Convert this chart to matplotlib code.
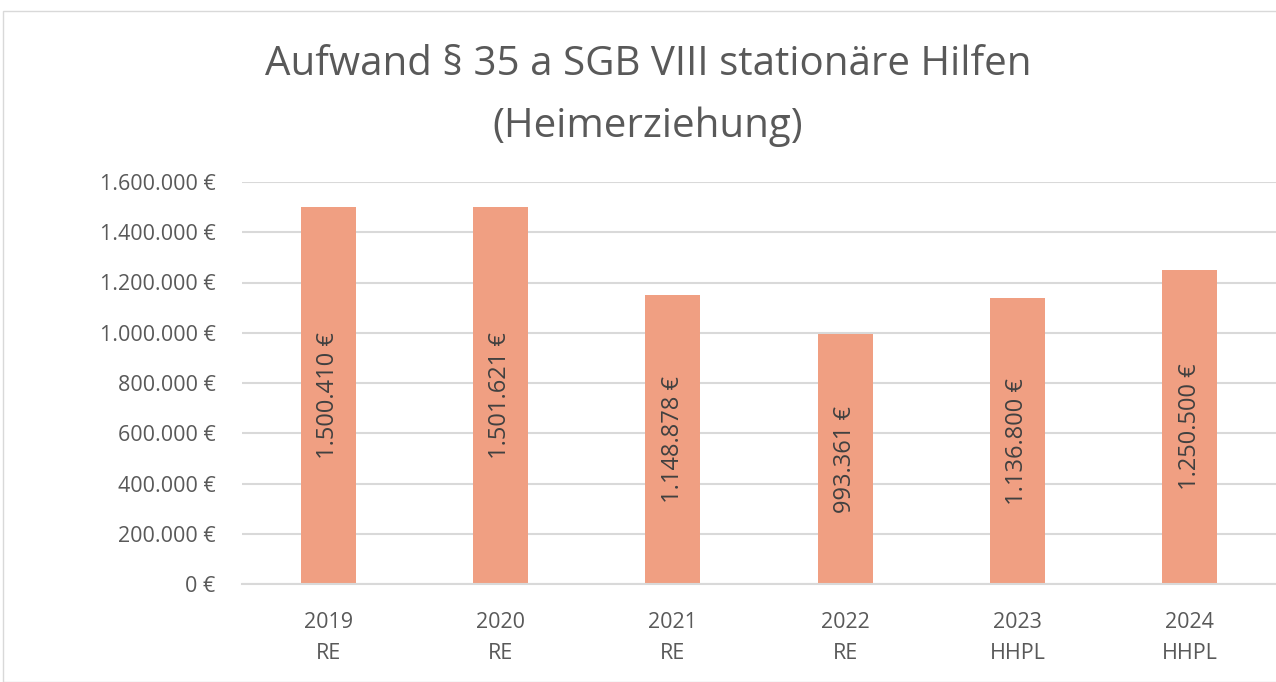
import matplotlib.pyplot as plt
from matplotlib.patches import Rectangle

years = ["2019", "2020", "2021", "2022", "2023", "2024"]
kinds = ["RE", "RE", "RE", "RE", "HHPL", "HHPL"]
values = [1500410, 1501621, 1148878, 993361, 1136800, 1250500]
yticks = [0, 200000, 400000, 600000, 800000, 1000000, 1200000, 1400000, 1600000]


def euro(v):
    return f"{v:,.0f} €".replace(",", ".")


plt.rcParams["font.family"] = ["Open Sans", "DejaVu Sans"]
grey = "#595959"

fig = plt.figure(figsize=(12.76, 6.82), dpi=100)
fig.patches.append(Rectangle((3 / 1276, 0), 1.0, 1 - 11 / 682, transform=fig.transFigure,
                             fill=False, edgecolor="#d9d9d9", linewidth=1))
ax = fig.add_axes([242 / 1276, 1 - 584 / 682, 1 - 242 / 1276, (584 - 182) / 682])

x = range(len(years))
bars = ax.bar(x, values, width=0.32, color="#f09f82", zorder=2)
for b, v in zip(bars, values):
    ax.text(b.get_x() + b.get_width() / 2, v / 2, euro(v), rotation=90,
            ha="center", va="center", fontsize=17, color="#404040", zorder=3)

ax.set_ylim(0, 1600000)
ax.set_xlim(-0.5, len(years) - 0.5)
ax.set_yticks(yticks)
ax.set_yticklabels([euro(t) for t in yticks])
ax.set_xticks(list(x))
ax.set_xticklabels([f"{y}\n{k}" for y, k in zip(years, kinds)], linespacing=1.65)
ax.tick_params(axis="both", length=0, labelsize=15.5, colors=grey)
ax.tick_params(axis="x", pad=20)
ax.tick_params(axis="y", pad=19)
ax.grid(axis="y", color="#d9d9d9", linewidth=1.5, zorder=0)
for s in ["top", "right", "left"]:
    ax.spines[s].set_visible(False)
ax.spines["bottom"].set_color("#d9d9d9")
ax.spines["bottom"].set_linewidth(1.5)

fig.text(648 / 1276, 1 - 96 / 682, "Aufwand § 35 a SGB VIII stationäre Hilfen\n(Heimerziehung)",
         ha="center", va="center", fontsize=29, color=grey, linespacing=1.7)

fig.savefig("out.png", dpi=100)
